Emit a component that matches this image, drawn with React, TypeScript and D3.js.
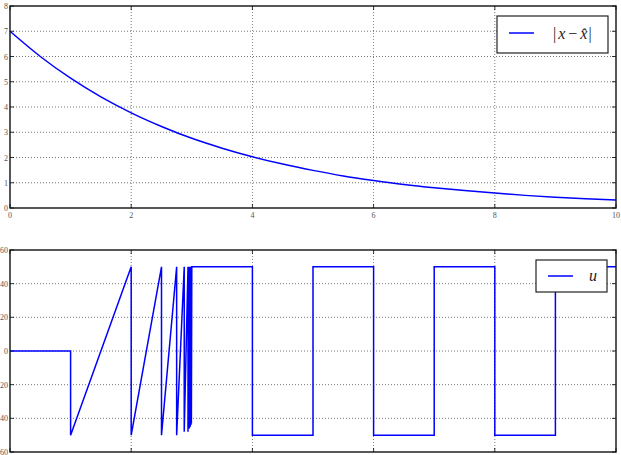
import React from "react";
import * as d3 from "d3";

const errT = [0, 0.5, 1, 1.5, 2, 2.5, 3, 3.5, 4, 4.5, 5, 5.5, 6, 6.5, 7, 7.5, 8, 8.5, 9, 9.5, 10];
const errV = [7.0, 6.0, 5.14, 4.4, 3.77, 3.23, 2.76, 2.37, 2.03, 1.74, 1.49, 1.27, 1.09, 0.93, 0.8, 0.69, 0.59, 0.5, 0.43, 0.37, 0.32];

const uT = [0, 1, 1, 2, 2, 2.5, 2.5, 2.75, 2.75, 2.875, 2.875, 2.9375, 2.9375, 2.96, 2.96, 2.975, 2.975, 2.985, 2.985, 2.993, 2.993, 3, 3, 4, 4, 5, 5, 6, 6, 7, 7, 8, 8, 9, 9, 10];
const uV = [0, 0, -50, 50, -50, 50, -50, 50, -50, 50, -48, 50, -48, 50, -46, 50, -45, 50, -44, 50, -43, 50, 50, 50, -50, -50, 50, 50, -50, -50, 50, 50, -50, -50, 50, 50];

const xTicks = [0, 2, 4, 6, 8, 10];
const yTicksTop = [0, 1, 2, 3, 4, 5, 6, 7, 8];
const yTicksBot = [-60, -40, -20, 0, 20, 40, 60];

const LEFT = 10;
const RIGHT = 616;
const BLUE = "#0000ff";
const FONT = "'Liberation Serif', 'DejaVu Serif', serif";

function Panel({ top, bottom, yDomain, yTicks, xs, ys, curve, showXLabels, legend }: any) {
  const x = d3.scaleLinear().domain([0, 10]).range([LEFT, RIGHT]);
  const y = d3.scaleLinear().domain(yDomain).range([bottom, top]);
  const pts = xs.map((t: number, i: number) => [t, ys[i]] as [number, number]);
  const line = d3
    .line<[number, number]>()
    .x((d) => x(d[0]))
    .y((d) => y(d[1]))
    .curve(curve);
  return (
    <g>
      {xTicks.slice(1, -1).map((t) => (
        <line key={"gx" + t} x1={x(t)} x2={x(t)} y1={top} y2={bottom} stroke="#000" strokeWidth={0.7} strokeDasharray="1,2" opacity={0.75} />
      ))}
      {yTicks.slice(1, -1).map((t: number) => (
        <line key={"gy" + t} x1={LEFT} x2={RIGHT} y1={y(t)} y2={y(t)} stroke="#000" strokeWidth={0.7} strokeDasharray="1,2" opacity={0.75} />
      ))}
      {xTicks.map((t) => (
        <g key={"tx" + t}>
          <line x1={x(t)} x2={x(t)} y1={bottom} y2={bottom - 4} stroke="#000" strokeWidth={0.8} />
          <line x1={x(t)} x2={x(t)} y1={top} y2={top + 4} stroke="#000" strokeWidth={0.8} />
        </g>
      ))}
      {yTicks.map((t: number) => (
        <g key={"ty" + t}>
          <line x1={LEFT} x2={LEFT + 4} y1={y(t)} y2={y(t)} stroke="#000" strokeWidth={0.8} />
          <line x1={RIGHT} x2={RIGHT - 4} y1={y(t)} y2={y(t)} stroke="#000" strokeWidth={0.8} />
          <text x={LEFT - 2} y={y(t) + 3} textAnchor="end" fontSize={8} fill="#555" fontFamily={FONT}>
            {t}
          </text>
        </g>
      ))}
      {showXLabels &&
        xTicks.map((t) => (
          <text key={"lx" + t} x={x(t)} y={bottom + 10} textAnchor="middle" fontSize={8} fill="#555" fontFamily={FONT}>
            {t}
          </text>
        ))}
      <path d={line(pts) || ""} fill="none" stroke={BLUE} strokeWidth={1.5} />
      <rect x={LEFT} y={top} width={RIGHT - LEFT} height={bottom - top} fill="none" stroke="#111" strokeWidth={1.4} />
      {legend}
    </g>
  );
}

export default function App() {
  const legendTop = (
    <g>
      <rect x={497} y={16} width={111} height={37} fill="#fff" stroke="#222" strokeWidth={1.2} />
      <line x1={509} x2={534} y1={33} y2={33} stroke={BLUE} strokeWidth={1.5} />
      <text x={553} y={39} fontSize={16} fontFamily={FONT} fill="#222">
        <tspan>|</tspan>
        <tspan fontStyle="italic" dx={2}>x</tspan>
        <tspan dx={3}>−</tspan>
        <tspan fontStyle="italic" dx={3}>x̂</tspan>
        <tspan dx={1}>|</tspan>
      </text>
    </g>
  );
  const legendBot = (
    <g>
      <rect x={536} y={260} width={71} height={32} fill="#fff" stroke="#222" strokeWidth={1.2} />
      <line x1={548} x2={573} y1={276} y2={276} stroke={BLUE} strokeWidth={1.5} />
      <text x={589} y={281} fontSize={16} fontStyle="italic" fontFamily={FONT} fill="#222">
        u
      </text>
    </g>
  );
  return (
    <svg width={621} height={455} style={{ position: "absolute", left: 0, top: 0, background: "#fff" }}>
      <rect x={0} y={0} width={621} height={455} fill="#fff" />
      <Panel top={6} bottom={208} yDomain={[0, 8]} yTicks={yTicksTop} xs={errT} ys={errV} curve={d3.curveMonotoneX} showXLabels={true} legend={legendTop} />
      <Panel top={250} bottom={452} yDomain={[-60, 60]} yTicks={yTicksBot} xs={uT} ys={uV} curve={d3.curveLinear} showXLabels={false} legend={legendBot} />
    </svg>
  );
}
